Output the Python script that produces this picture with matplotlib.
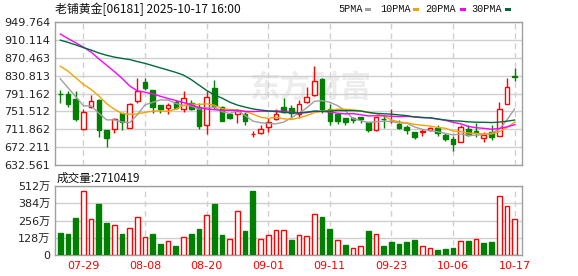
import matplotlib
matplotlib.use("Agg")
import matplotlib.pyplot as plt
import numpy as np
import pandas as pd
from matplotlib.patches import Rectangle

# ---------------- data ----------------
dates = ["07-24", "07-25", "07-28", "07-29", "07-30", "07-31", "08-01", "08-04", "08-05", "08-06",
         "08-07", "08-08", "08-11", "08-12", "08-13", "08-14", "08-15", "08-18", "08-19", "08-20",
         "08-21", "08-22", "08-25", "08-26", "08-27", "08-28", "08-29", "09-01", "09-02", "09-03",
         "09-04", "09-05", "09-08", "09-09", "09-10", "09-11", "09-12", "09-15", "09-16", "09-17",
         "09-18", "09-19", "09-22", "09-23", "09-24", "09-25", "09-26", "09-29", "09-30", "10-02",
         "10-03", "10-06", "10-08", "10-09", "10-10", "10-13", "10-14", "10-15", "10-16", "10-17"]

opens = [791.0, 790.9, 779.9, 713.2, 761.6, 776.2, 709.6, 713.2, 746.9, 714.7,
         774.7, 815.7, 799.6, 765.9, 758.6, 771.8, 757.2, 770.4, 761.6, 721.3,
         803.3, 761.6, 744.7, 744.7, 746.2, 702.0, 704.4, 717.6, 733.7, 761.6,
         758.6, 746.2, 772.5, 787.9, 823.1, 757.2, 744.7, 735.9, 735.9, 738.1,
         728.6, 710.3, 735.2, 730.0, 723.5, 716.2, 706.6, 705.7, 709.6, 714.7,
         700.0, 689.8, 682.5, 713.2, 707.2, 693.4, 706.6, 697.1, 768.2, 829.7]
highs = [799.6, 796.0, 797.4, 755.7, 787.9, 779.1, 710.0, 735.9, 748.4, 770.4,
         825.3, 824.5, 799.6, 765.9, 770.4, 776.2, 796.0, 777.7, 770.4, 797.4,
         821.6, 764.5, 748.4, 757.2, 749.9, 708.1, 720.6, 735.9, 757.2, 781.3,
         765.2, 777.7, 804.8, 852.4, 824.5, 768.9, 744.7, 735.9, 738.1, 739.6,
         728.6, 739.6, 741.1, 757.2, 731.5, 720.6, 706.6, 711.8, 716.9, 722.0,
         704.4, 697.1, 720.6, 720.6, 725.0, 705.9, 720.6, 771.8, 825.3, 847.3]
lows = [769.0, 761.6, 730.1, 710.3, 758.6, 694.9, 672.9, 703.7, 710.3, 714.7,
        769.6, 798.2, 748.4, 748.4, 745.5, 755.7, 749.9, 754.2, 713.2, 702.2,
        755.7, 729.3, 733.7, 725.0, 720.6, 695.7, 702.2, 705.9, 731.5, 746.9,
        736.7, 737.4, 770.4, 786.5, 748.4, 720.6, 723.5, 720.6, 726.4, 726.4,
        705.9, 708.8, 715.5, 726.4, 711.8, 702.2, 689.8, 697.1, 708.1, 697.1,
        686.1, 662.7, 682.5, 697.1, 693.6, 684.6, 688.3, 697.1, 768.2, 818.0]
closes = [790.9, 767.4, 733.7, 750.6, 775.5, 711.0, 692.7, 733.7, 727.9, 768.2,
          797.4, 803.3, 760.8, 755.7, 765.9, 759.3, 780.6, 757.2, 719.1, 783.5,
          764.5, 730.8, 735.9, 751.3, 730.1, 702.2, 711.8, 728.6, 746.2, 749.9,
          748.4, 768.2, 783.5, 819.4, 757.2, 730.1, 731.0, 727.1, 732.3, 733.7,
          710.3, 738.1, 733.7, 730.1, 715.5, 710.3, 695.7, 707.2, 714.7, 704.4,
          691.2, 678.8, 717.6, 700.0, 705.7, 698.6, 694.9, 757.2, 805.5, 828.2]
# volume in units of 万 shares
volumes = [165.0, 157.5, 275.7, 475.0, 268.3, 379.0, 238.8, 221.5, 157.5, 201.8,
           280.6, 135.4, 157.5, 83.7, 103.4, 68.9, 132.9, 157.5, 194.5, 295.4,
           379.0, 150.2, 118.2, 327.4, 179.7, 475.0, 118.2, 147.7, 187.1, 187.1,
           115.7, 147.7, 140.3, 302.8, 283.1, 194.5, 115.0, 73.8, 54.2, 66.5,
           179.7, 155.1, 68.9, 98.5, 83.7, 98.5, 113.2, 66.5, 51.7, 39.4,
           46.8, 54.2, 103.4, 105.8, 118.2, 91.1, 96.0, 435.7, 361.8, 271.0419]

ma5_head = [823.8, 804.0, 784.0, 764.0]
ma10_head = [851.7, 840.7, 826.0, 811.3, 800.3, 785.8, 768.9, 756.4, 746.9]
ma20_head = [923.0, 913.0, 903.5, 894.0, 883.0, 868.0, 854.0, 840.0, 825.0, 808.0,
             797.0, 794.0, 790.0, 785.0, 780.0, 775.5, 771.0, 766.0, 760.0]
ma30_head = [909.5, 904.5, 899.0, 893.0, 887.5, 881.0, 876.0, 872.0, 869.0, 866.5,
             862.0, 858.0, 853.0, 848.0, 843.0, 838.0, 832.0, 822.0, 810.0, 798.0,
             788.0, 781.0, 772.0, 765.5, 761.0, 757.0, 754.5, 752.5, 751.0]

price_ticks = ["632.561", "672.211", "711.862", "751.512", "791.162",
               "830.813", "870.463", "910.114", "949.764"]
vol_ticks = [0, 128, 256, 384, 512]
vol_tick_labels = ["0", "128万", "256万", "384万", "512万"]
date_ticks = ["07-29", "08-08", "08-20", "09-01", "09-11", "09-23", "10-06", "10-17"]

title = "老铺黄金[06181] 2025-10-17 16:00"
vol_title = "成交量:2710419"
legend_names = ["5PMA", "10PMA", "20PMA", "30PMA"]
watermark = "东方财富"

# ---------------- style ----------------
RED = "#ff0000"
GREEN = "#008000"
MA_COLORS = ["#a0a0a0", "#f5a300", "#ff00ff", "#006b3a"]
GRID = "#d0d0d0"
SPINE = "#a0a0a0"
FONT = ["DejaVu Sans", "Noto Sans CJK SC"]
CJK = ["Noto Sans CJK SC", "DejaVu Sans"]
MONO = ["Liberation Mono", "DejaVu Sans Mono"]

W, H = 578, 276
fig = plt.figure(figsize=(W / 100, H / 100), dpi=100)
fig.patch.set_facecolor("white")


def fx(px):
    return px / W


def fy(py):
    return 1 - py / H


ax = fig.add_axes([fx(55), fy(165), (522 - 55) / W, (165 - 22) / H])
axv = fig.add_axes([fx(55), fy(255.3), (522 - 55) / W, (255.3 - 186) / H])

n = len(closes)
x = np.arange(n)
o = np.array(opens)
c = np.array(closes)
hi = np.array(highs)
lo = np.array(lows)
up = c >= o

# moving averages
cs = pd.Series(closes)
mas = []
for win, head in [(5, ma5_head), (10, ma10_head), (20, ma20_head), (30, ma30_head)]:
    m = cs.rolling(win).mean().to_numpy()
    m[:len(head)] = head
    mas.append(m)

xmin, xmax = -0.69, 59.96
price_vals = [float(v) for v in price_ticks]
tick_pos = [dates.index(d) for d in date_ticks]

for a in (ax, axv):
    a.set_xlim(xmin, xmax)
    a.set_xticks(tick_pos)
    a.grid(axis="x", color=GRID, lw=1, ls=(0, (4, 3)), zorder=0)
    a.grid(axis="y", color=GRID, lw=1, ls="-", zorder=0)
    for s in a.spines.values():
        s.set_color(SPINE)
        s.set_linewidth(1)
    a.tick_params(length=0, labelsize=8, colors="#222222")
    a.set_axisbelow(True)
    a.patch.set_alpha(0)

# watermark (behind the transparent axes)
fig.text(fx(310), fy(88), watermark, family=CJK, fontsize=22, fontweight="bold",
         color="#ececec", ha="center", va="center", zorder=-1)

ax.set_ylim(price_vals[0], price_vals[-1])
ax.set_yticks(price_vals)
ax.set_yticklabels(price_ticks, family=FONT)
ax.set_xticklabels([])

# candles
cols = [RED if u else GREEN for u in up]
ax.vlines(x, lo, hi, colors=cols, lw=1, zorder=2)
bottoms = np.minimum(o, c)
heights = np.abs(c - o)
ax.bar(x, heights, bottom=bottoms, width=0.6,
       facecolor=["white" if u else GREEN for u in up], edgecolor=cols, lw=1, zorder=3)

for m, col in zip(mas, MA_COLORS):
    ax.plot(x, m, color=col, lw=1, zorder=4)

# volume bars coloured by change versus previous close
vup = [False] + [closes[i] >= closes[i - 1] for i in range(1, n)]
vcols = [RED if u else GREEN for u in vup]
axv.bar(x, volumes, width=0.62, facecolor=["white" if u else GREEN for u in vup],
        edgecolor=vcols, lw=1, zorder=3)
axv.set_ylim(0, 512)
axv.set_yticks(vol_ticks)
axv.set_yticklabels(vol_tick_labels, family=FONT)
axv.set_xticklabels(date_ticks, family=FONT, color=RED)
axv.tick_params(axis="x", pad=4, colors=RED, labelcolor=RED)

# texts
fig.text(fx(55), fy(9), title, family=CJK, fontsize=8.6, ha="left", va="center", color="#111111")
fig.text(fx(57), fy(178), vol_title, family=CJK, fontsize=8.4, ha="left", va="center", color="#111111")

leg_x = [338, 380, 425, 471]
mark_x = [365, 413, 460, 505]
for name, lx, mx, col in zip(legend_names, leg_x, mark_x, MA_COLORS):
    fig.text(fx(lx), fy(9), name, family=MONO, fontsize=7.3, ha="left", va="center", color="#111111")
    fig.add_artist(Rectangle((fx(mx), fy(10.5)), 5.5 / W, 2.5 / H, transform=fig.transFigure,
                             facecolor=col, edgecolor="none"))

fig.savefig("out.png", dpi=100, facecolor="white")
